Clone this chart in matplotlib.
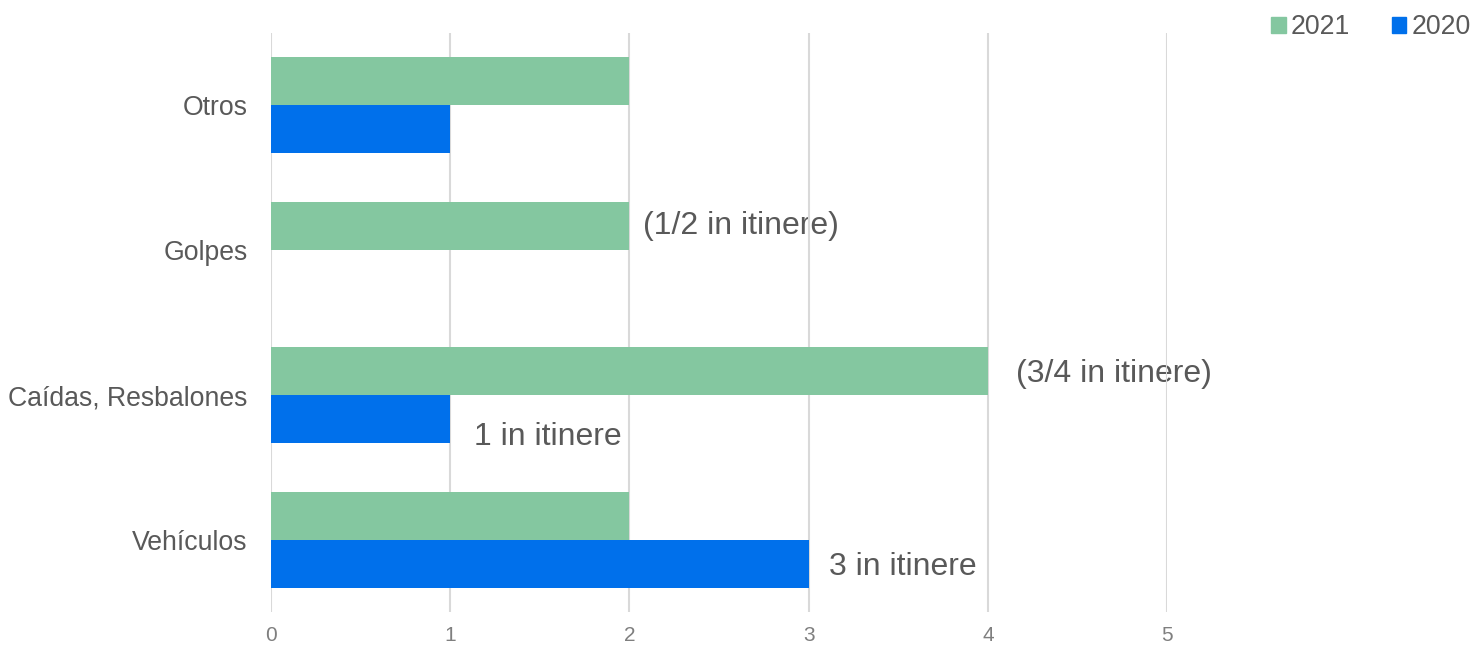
import numpy as np
import matplotlib.pyplot as plt
from matplotlib.patches import Patch

plt.rcParams['font.family'] = ['Liberation Sans', 'DejaVu Sans']

# data (bottom to top)
categories = ['Vehículos', 'Caídas, Resbalones', 'Golpes', 'Otros']
vals_2021 = [2, 4, 2, 2]
vals_2020 = [3, 1, 0, 1]

green = '#84C7A0'
blue = '#0070EB'
txt = '#595959'

fig = plt.figure(figsize=(14.73, 6.46), dpi=100)
ax = fig.add_axes([0.184, 0.052, 0.6083, 0.897])

y = np.arange(len(categories))
h = 0.331
ax.barh(y + h / 2, vals_2021, height=h, color=green, zorder=2)
ax.barh(y - h / 2, vals_2020, height=h, color=blue, zorder=2)

ax.set_xlim(0, 5)
ax.set_ylim(-0.5, len(categories) - 0.5)
ax.set_yticks(y)
ax.set_yticklabels(categories, fontsize=19.2, color=txt)
ax.set_xticks(range(6))
ax.tick_params(axis='y', length=0, pad=17)
ax.tick_params(axis='x', length=0, pad=10, labelsize=15, labelcolor='#7f7f7f')
ax.grid(axis='x', color='#D9D9D9', linewidth=1.5, zorder=0)
for s in ax.spines.values():
    s.set_visible(False)

# annotations next to bars
notes = [
    (vals_2021[2], y[2] + h / 2, '(1/2 in itinere)', 10, 0),
    (vals_2021[1], y[1] + h / 2, '(3/4 in itinere)', 20, -2),
    (vals_2020[1], y[1] - h / 2, '1 in itinere', 17, -13),
    (vals_2020[0], y[0] - h / 2, '3 in itinere', 15, -2),
]
for xv, yv, s, dx, dy in notes:
    ax.annotate(s, (xv, yv), xytext=(dx, dy), textcoords='offset points',
                ha='left', va='center', fontsize=23, color=txt, zorder=1)

handles = [Patch(color=green, label='2021'), Patch(color=blue, label='2020')]
fig.legend(handles=handles, loc='center right', bbox_to_anchor=(0.9985, 0.958),
           ncol=2, frameon=False, fontsize=19.2, labelcolor=txt,
           handlelength=0.55, handleheight=0.55, handletextpad=0.2,
           columnspacing=1.55, borderpad=0, borderaxespad=0)

fig.savefig('out.png', dpi=100)
